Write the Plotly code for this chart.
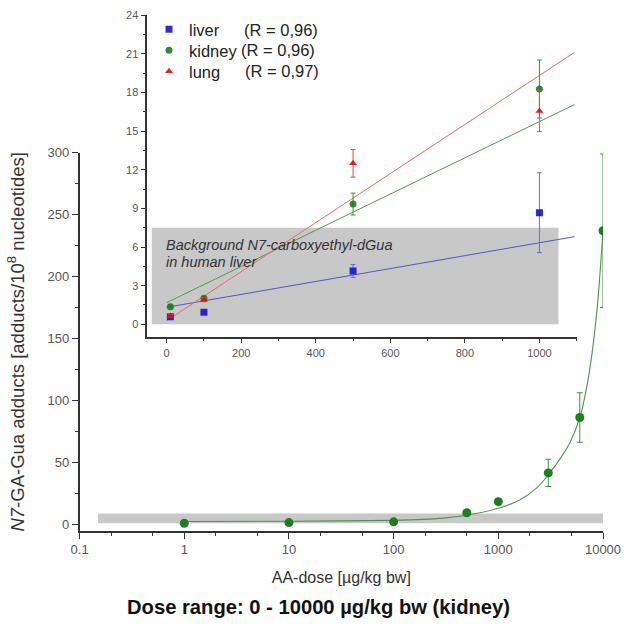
import plotly.graph_objects as go

# ---------------- data ----------------
# main panel (kidney, log dose axis)
main_dose = [1, 10, 100, 500, 1000, 3000, 6000, 10000]
main_kidney = [0.9, 1.4, 2.0, 9.3, 18.3, 41.5, 86.2, 237.0]
main_kidney_err = [0, 0, 0, 0.85, 2.25, 11.0, 20.0, 62.0]

# fitted curve
curve_dose = [1, 10, 100, 300, 500, 1000, 1600, 2300, 3000, 3900, 4800, 6000, 7000, 8000, 9000, 10000]
curve_val = [2.3, 2.5, 3.2, 5.0, 7.3, 12.9, 19.6, 29.0, 39.8, 53.0, 65.4, 86.0, 111.0, 143.0, 184.0, 237.0]

# background band (main)
band_dose = [0.15, 10000]
band_val = [0.8, 8.8]

# inset (linear 0-1000)
inset_dose = [10, 100, 500, 1000]
liver = [0.59, 0.93, 4.14, 8.66]
liver_err = [0.1, 0.1, 0.5, 3.1]
kidney = [1.37, 2.02, 9.33, 18.26]
kidney_err = [0.1, 0.15, 0.85, 2.25]
lung = [0.65, 1.9, 12.49, 16.55]
lung_err = [0.1, 0.15, 1.07, 1.6]

fit_dose = [0, 1094]
liver_fit = [1.32, 6.80]
kidney_fit = [1.68, 17.05]
lung_fit = [0.28, 21.1]

inset_band_dose = [-40, 1051]
inset_band_val = [0, 7.5]

legend_names = ["liver", "kidney", "lung"]
legend_r = ["(R = 0,96)", "(R = 0,96)", "(R = 0,97)"]

main_yticks = [0, 50, 100, 150, 200, 250, 300]
main_xticks = [0.1, 1, 10, 100, 1000, 10000]
main_xticklabels = ["0.1", "1", "10", "100", "1000", "10000"]
inset_yticks = [0, 3, 6, 9, 12, 15, 18, 21, 24]
inset_xticks = [0, 200, 400, 600, 800, 1000]

# ---------------- style ----------------
W, H = 624, 635
FONT = "Liberation Sans, Arial, sans-serif"
GREEN = "#1b7f1b"
BLUE = "#1515d0"
RED = "#dd1010"
GRAY = "#c8c8c8"
AX = "#333333"
TICKC = "#555555"

fig = go.Figure()

# main panel
fig.add_trace(go.Scatter(
    x=curve_dose, y=curve_val, mode="lines", line=dict(color="#558f55", width=1.1, shape="spline", smoothing=0.6),
    showlegend=False, xaxis="x", yaxis="y", hoverinfo="skip"))
fig.add_trace(go.Scatter(
    x=main_dose, y=main_kidney, mode="markers",
    marker=dict(color=GREEN, size=9, symbol="circle"),
    error_y=dict(type="data", array=main_kidney_err, color="#3f8f3f", thickness=1, width=3),
    showlegend=False, xaxis="x", yaxis="y"))

# inset fit lines
fig.add_trace(go.Scatter(x=fit_dose, y=liver_fit, mode="lines", line=dict(color="#5555c8", width=1),
                         showlegend=False, xaxis="x2", yaxis="y2", hoverinfo="skip"))
fig.add_trace(go.Scatter(x=fit_dose, y=kidney_fit, mode="lines", line=dict(color="#4f9a4f", width=1),
                         showlegend=False, xaxis="x2", yaxis="y2", hoverinfo="skip"))
fig.add_trace(go.Scatter(x=fit_dose, y=lung_fit, mode="lines", line=dict(color="#e86a6a", width=1),
                         showlegend=False, xaxis="x2", yaxis="y2", hoverinfo="skip"))

# inset points (each series gets its own legend box so rows can be placed exactly)
series = [
    (legend_names[0], liver, liver_err, BLUE, "square", "#6a6ae0", "legend"),
    (legend_names[1], kidney, kidney_err, GREEN, "circle", "#3f8f3f", "legend2"),
    (legend_names[2], lung, lung_err, RED, "triangle-up", "#e04a4a", "legend3"),
]
for name, vals, errs, col, sym, ecol, leg in series:
    fig.add_trace(go.Scatter(
        x=inset_dose, y=vals, mode="markers", name=name, legend=leg,
        marker=dict(color=col, size=7, symbol=sym, opacity=0.9),
        error_y=dict(type="data", array=errs, color=ecol, thickness=1, width=2.5),
        xaxis="x2", yaxis="y2"))

# px helpers for domains
def dom_x(a, b):
    return [a / W, b / W]

def dom_y(top_px, bottom_px):
    return [(H - bottom_px) / H, (H - top_px) / H]

def py(px):
    return (H - px) / H

shapes = [
    dict(type="rect", xref="x", yref="y",
         x0=band_dose[0], x1=band_dose[1],
         y0=band_val[0], y1=band_val[1], fillcolor=GRAY, line=dict(width=0), layer="below"),
    dict(type="rect", xref="x2", yref="y2",
         x0=inset_band_dose[0], x1=inset_band_dose[1],
         y0=inset_band_val[0], y1=inset_band_val[1], fillcolor=GRAY, line=dict(width=0), layer="below"),
]

annotations = [
    dict(text="Dose range: 0 - 10000 µg/kg bw (kidney)", xref="paper", yref="paper",
         x=318 / W, y=py(607), xanchor="center", yanchor="middle", showarrow=False,
         font=dict(family=FONT, size=20.2, color="#111111", weight="bold")),
    dict(text="<i>Background N7-carboxyethyl-dGua</i>", xref="paper", yref="paper",
         x=164 / W, y=py(245), xanchor="left", yanchor="middle", align="left", showarrow=False,
         font=dict(family=FONT, size=14.5, color="#333333")),
    dict(text="<i>in human liver</i>", xref="paper", yref="paper",
         x=164 / W, y=py(262), xanchor="left", yanchor="middle", align="left", showarrow=False,
         font=dict(family=FONT, size=14.5, color="#333333")),
]
row_y = [29.5, 50.5, 71.5]
r_x = [242, 239, 243]
for i in range(3):
    annotations.append(dict(text=legend_r[i], xref="paper", yref="paper",
                            x=r_x[i] / W, y=py(row_y[i]), xanchor="left", yanchor="middle",
                            showarrow=False, font=dict(family=FONT, size=16.5, color="#222222")))

def legend_box(row_px):
    return dict(x=149 / W, y=py(row_px), xanchor="left", yanchor="middle",
                bgcolor="rgba(0,0,0,0)", font=dict(family=FONT, size=16.5, color="#222222"))

fig.update_layout(
    width=W, height=H, margin=dict(l=0, r=0, t=0, b=0, autoexpand=False),
    paper_bgcolor="white", plot_bgcolor="rgba(0,0,0,0)",
    font=dict(family=FONT, color=TICKC),
    showlegend=True,
    legend=legend_box(row_y[0]),
    legend2=legend_box(row_y[1]),
    legend3=legend_box(row_y[2]),
    xaxis=dict(type="log", domain=dom_x(79.6, 603), range=[-1, 4], anchor="y", automargin=False,
               tickvals=main_xticks, ticktext=main_xticklabels,
               showline=True, linecolor=AX, linewidth=1.5, ticks="outside", ticklen=6, tickwidth=1.2,
               tickcolor=AX, showgrid=False, zeroline=False,
               minor=dict(ticks="outside", ticklen=3, tickcolor=AX, showgrid=False),
               tickfont=dict(family=FONT, size=13, color=TICKC),
               title=dict(text="AA-dose [µg/kg bw]", font=dict(family=FONT, size=16, color="#333333"),
                          standoff=15)),
    yaxis=dict(domain=dom_y(152.7, 531), range=[-5.4, 300], anchor="x", automargin=False,
               tickvals=main_yticks,
               showline=True, linecolor=AX, linewidth=1.5, ticks="outside", ticklen=6, tickwidth=1.2,
               tickcolor=AX, showgrid=False, zeroline=False,
               minor=dict(dtick=25, ticks="outside", ticklen=3, tickcolor=AX, showgrid=False),
               tickfont=dict(family=FONT, size=13, color=TICKC),
               title=dict(text="<i>N7</i>-GA-Gua adducts [adducts/10<sup>8</sup> nucleotides]",
                          font=dict(family=FONT, size=18.5, color="#333333"), standoff=18)),
    xaxis2=dict(domain=dom_x(147.3, 576.7), range=[-52, 1100], anchor="y2", automargin=False,
                tickvals=inset_xticks,
                showline=True, linecolor=AX, linewidth=1.5, ticks="outside", ticklen=5, tickwidth=1.2,
                tickcolor=AX, showgrid=False, zeroline=False,
                minor=dict(dtick=100, tick0=0, ticks="outside", ticklen=3, tickcolor=AX, showgrid=False),
                tickfont=dict(family=FONT, size=11, color=TICKC)),
    yaxis2=dict(domain=dom_y(15, 336.7), range=[-0.96, 24], anchor="x2", automargin=False,
                tickvals=inset_yticks,
                showline=True, linecolor=AX, linewidth=1.5, ticks="outside", ticklen=5, tickwidth=1.2,
                tickcolor=AX, showgrid=False, zeroline=False,
                minor=dict(dtick=1.5, tick0=0, ticks="outside", ticklen=3, tickcolor=AX, showgrid=False),
                tickfont=dict(family=FONT, size=11, color=TICKC)),
    shapes=shapes,
    annotations=annotations,
)

fig.write_html("out.html", config={"displayModeBar": False},
               post_script="document.body.style.margin='0px';")
